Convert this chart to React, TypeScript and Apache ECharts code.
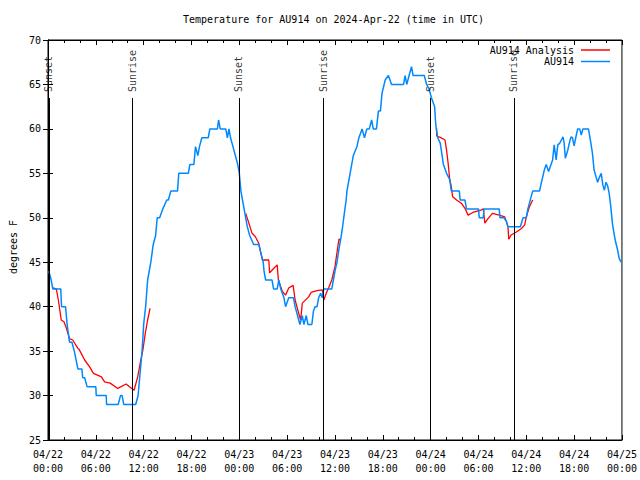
import React, { useEffect, useRef } from "react";
import * as echarts from "echarts";

const TITLE = "Temperature for AU914 on 2024-Apr-22 (time in UTC)";
const Y_NAME = "degrees F";
const OBS_NAME = "AU914";
const ANA_NAME = "AU914 Analysis";

// hours since 04/22 00:00 UTC
const X_TICK_LABELS = [
  "04/22\n00:00", "04/22\n06:00", "04/22\n12:00", "04/22\n18:00",
  "04/23\n00:00", "04/23\n06:00", "04/23\n12:00", "04/23\n18:00",
  "04/24\n00:00", "04/24\n06:00", "04/24\n12:00", "04/24\n18:00",
  "04/25\n00:00",
];

const SUN_TIMES = [0.1, 10.6, 23.95, 34.58, 47.95, 58.45];
const SUN_LABELS = ["Sunset", "Sunrise", "Sunset", "Sunrise", "Sunset", "Sunrise"];

// observed temperature (AU914)
const OBS_HOURS = [
  0.1, 0.4, 0.6, 1.6, 1.7, 2.2, 2.4, 2.7, 3.0, 3.3, 3.75, 4.25, 4.35, 4.6, 4.9, 6.0, 6.05, 7.3, 7.35, 8.8,
  9.1, 9.3, 9.5, 11.0, 11.3, 11.5, 11.8, 12.0, 12.25, 12.5, 12.9, 13.2, 13.5, 13.7, 14.0, 14.4, 14.9, 15.1, 15.4, 16.25,
  16.4, 17.6, 17.8, 18.3, 18.5, 18.8, 19.0, 19.3, 20.1, 20.3, 21.25, 21.4, 21.6, 22.3, 22.5, 22.7, 22.9, 23.2, 23.5, 23.8,
  24.0, 24.2, 24.4, 24.6, 24.8, 25.0, 25.3, 25.8, 26.45, 26.7, 27.0, 27.1, 27.3, 28.1, 28.3, 28.75, 28.95, 29.2, 29.6, 29.8,
  30.0, 30.2, 30.8, 31.0, 31.3, 31.6, 31.9, 32.1, 32.4, 32.6, 33.1, 33.3, 33.5, 33.75, 33.95, 34.2, 34.4, 34.6, 35.6, 35.8,
  36.0, 36.25, 36.5, 36.7, 36.9, 37.1, 37.4, 37.5, 37.9, 38.3, 38.75, 39.0, 39.4, 39.7, 40.0, 40.3, 40.6, 40.8, 41.2, 41.45,
  41.7, 41.9, 42.3, 42.7, 43.1, 44.6, 44.8, 45.0, 45.3, 45.6, 45.8, 47.2, 47.5, 47.8, 48.1, 48.5, 48.6, 48.7, 48.9, 49.2,
  49.4, 49.6, 50.0, 50.4, 50.6, 51.6, 51.7, 52.3, 52.5, 54.0, 54.1, 54.6, 54.7, 56.6, 56.7, 57.2, 57.5, 57.7, 59.25, 59.6,
  60.0, 60.2, 60.8, 61.66, 61.9, 62.3, 62.5, 62.8, 63.1, 63.3, 63.5, 63.75, 63.95, 64.2, 64.4, 64.6, 64.75, 64.9, 65.2, 65.4,
  65.6, 65.8, 66.0, 66.2, 66.45, 66.7, 66.9, 67.1, 67.8, 68.1, 68.3, 68.5, 68.75, 68.95, 69.1, 69.4, 69.6, 69.8, 70.0, 70.2,
  70.4, 70.6, 70.8, 71.0, 71.2, 71.45, 71.66, 71.9,
];
const OBS_TEMPS = [
  44, 43, 42, 42, 40, 40, 38, 36, 36, 35, 33, 33, 32, 32, 31, 31, 30, 30, 29, 29,
  30, 30, 29, 29, 30, 32, 35, 38, 40, 43, 45, 47, 48, 50, 50, 51, 52, 52, 53, 53,
  55, 55, 56, 56, 58, 57, 58, 59, 59, 60, 60, 61, 60, 60, 59, 60, 59, 58, 57, 56,
  55, 53, 52, 51, 50, 49, 48, 47, 47, 46, 45, 44, 43, 43, 42, 42, 43, 42, 41, 40,
  40.5, 41, 41, 40, 39, 38, 39, 38, 39, 38, 38, 39.5, 40, 40, 41, 41.5, 41, 42, 42, 43,
  44, 45, 46.5, 47.5, 48.6, 50, 52, 53, 55, 57, 58, 59, 60, 59, 60, 60, 61, 60, 60, 62,
  62, 64, 65.5, 66, 65, 65, 66, 65, 66, 67, 66, 66, 65, 64.5, 63.5, 62.5, 61, 60, 59, 58.4,
  57.25, 56, 55, 54.3, 53, 53, 52, 52, 51, 51, 50, 50, 51, 51, 50, 50, 49.6, 49, 49, 50,
  50, 51, 53, 53, 54, 55.5, 56, 55.2, 56, 56.5, 58.2, 56.5, 58.2, 58.4, 58.75, 59.1, 58.4, 56.7, 57.6, 58.4,
  59.1, 59, 58.1, 59, 60, 60, 59.3, 60, 60, 58.4, 57.25, 55.4, 54.6, 54, 54.4, 55, 53.7, 53.1, 54, 53.6,
  52.75, 51.25, 49.4, 48.25, 47.3, 46.4, 45.4, 45,
];

// analysis (three segments)
const ANA1_HOURS = [0.63, 1.04, 1.3, 1.66, 2.0, 2.3, 2.7, 3.1, 3.75, 3.9, 4.6, 5.2, 5.7, 6.7, 7.1, 7.8, 8.75, 9.8, 10.5, 10.8, 11.25, 11.6, 11.9, 12.2, 12.5, 12.8];
const ANA1_TEMPS = [42.1, 42, 40.75, 38.5, 38.3, 37.6, 36.4, 36.25, 35.3, 35.2, 34, 33.25, 32.5, 32.1, 31.55, 31.4, 30.8, 31.3, 30.8, 30.6, 32.1, 33.8, 35.1, 37, 38.5, 39.8];
const ANA2_HOURS = [24.8, 25.2, 25.6, 26.0, 26.45, 26.9, 27.7, 27.8, 28.3, 28.75, 28.9, 29.4, 29.8, 30.2, 30.75, 31.0, 31.45, 31.7, 31.9, 32.7, 33.0, 33.75, 34.4, 34.6, 34.9, 35.2, 35.6, 36.0, 36.3, 36.5, 36.7];
const ANA2_TEMPS = [50.5, 49.4, 48.25, 47.9, 47.1, 45.25, 45.25, 43.8, 44.3, 44.7, 43, 41.7, 41.3, 42.1, 42.4, 40.75, 39.25, 38.5, 40.4, 41.1, 41.6, 41.8, 41.9, 40.75, 41.5, 42.1, 43, 44.5, 46.4, 47.6, 47.5];
const ANA3_HOURS = [48.75, 48.76, 49.2, 49.8, 50.0, 50.2, 50.4, 50.6, 50.75, 51.25, 51.9, 52.3, 52.7, 53.3, 54.4, 54.6, 54.8, 55.2, 55.75, 56.6, 57.3, 57.7, 57.8, 58.1, 58.75, 59.4, 59.8, 60.0, 60.4, 60.8];
const ANA3_TEMPS = [60.06, 59.2, 59.05, 58.75, 57.6, 56.1, 54.25, 53.5, 52.4, 52, 51.6, 51.07, 50.3, 50.6, 50.9, 51.0, 49.4, 49.9, 50.5, 50.3, 50.1, 49, 47.6, 48.06, 48.4, 48.8, 49.2, 50.1, 51.25, 52];

const RED = "#ff0000";
const BLUE = "#0088ff";
const FONT = "DejaVu Sans Mono";
const LINE_TOP = 63.47;

const zip = (xs: number[], ys: number[]) => xs.map((x, i) => [x, ys[i]]);

export default function App() {
  const ref = useRef<HTMLDivElement>(null);
  useEffect(() => {
    if (!ref.current) return;
    const chart = echarts.init(ref.current, undefined, { renderer: "svg" });
    const anaData = [
      ...zip(ANA1_HOURS, ANA1_TEMPS), [13, "-"],
      ...zip(ANA2_HOURS, ANA2_TEMPS), [40, "-"],
      ...zip(ANA3_HOURS, ANA3_TEMPS),
    ];
    const axisCommon = {
      axisLine: { show: true, lineStyle: { color: "#000", width: 1 } },
      splitLine: { show: false },
    };
    const xCommon = {
      ...axisCommon,
      type: "value",
      min: 0,
      max: 72,
      interval: 6,
      axisTick: { show: true, inside: true, length: 5, lineStyle: { color: "#000" } },
      minorTick: { show: true, splitNumber: 3, length: 3, lineStyle: { color: "#000" } },
    };
    const yCommon = {
      ...axisCommon,
      type: "value",
      min: 25,
      max: 70,
      interval: 5,
      axisTick: { show: true, inside: true, length: 5, lineStyle: { color: "#000" } },
    };
    const option = {
      animation: false,
      backgroundColor: "#ffffff",
      textStyle: { fontFamily: FONT },
      title: {
        text: TITLE,
        left: 183,
        top: 14,
        padding: 0,
        textStyle: { fontSize: 10, fontWeight: "normal", color: "#000", fontFamily: FONT },
      },
      legend: [
        {
          data: [ANA_NAME],
          right: 30,
          top: 45,
          padding: 0,
          align: "right",
          icon: "rect",
          itemWidth: 29,
          itemHeight: 1.5,
          selectedMode: false,
          textStyle: { fontSize: 10, color: "#000", fontFamily: FONT, padding: [0, 2, 0, 0] },
        },
        {
          data: [OBS_NAME],
          right: 30,
          top: 56.5,
          padding: 0,
          align: "right",
          icon: "rect",
          itemWidth: 29,
          itemHeight: 1.5,
          selectedMode: false,
          textStyle: { fontSize: 10, color: "#000", fontFamily: FONT, padding: [0, 2, 0, 0] },
        },
      ],
      grid: {
        left: 46.7,
        top: 40,
        width: 576,
        height: 400,
        show: true,
        borderColor: "#000",
        borderWidth: 1,
      },
      xAxis: [
        {
          ...xCommon,
          position: "bottom",
          axisLabel: {
            show: true,
            showMinLabel: true,
            showMaxLabel: true,
            formatter: (v: number) => X_TICK_LABELS[Math.round(v / 6)] ?? "",
            fontSize: 10,
            lineHeight: 14,
            margin: 7,
            color: "#000",
            fontFamily: FONT,
          },
        },
        { ...xCommon, position: "top", axisLabel: { show: false } },
      ],
      yAxis: [
        {
          ...yCommon,
          position: "left",
          name: Y_NAME,
          nameLocation: "middle",
          nameGap: 30,
          nameRotate: 90,
          nameTextStyle: { fontSize: 10, color: "#000", fontFamily: FONT, padding: [0, 14, 0, 0] },
          axisLabel: {
            show: true,
            showMinLabel: true,
            showMaxLabel: true,
            fontSize: 10,
            margin: 7,
            color: "#000",
            fontFamily: FONT,
          },
        },
        { ...yCommon, position: "right", axisLabel: { show: false } },
      ],
      series: [
        {
          name: ANA_NAME,
          type: "line",
          xAxisIndex: 0,
          yAxisIndex: 0,
          data: anaData,
          color: RED,
          showSymbol: false,
          symbol: "none",
          connectNulls: false,
          lineStyle: { color: RED, width: 1.3 },
          itemStyle: { color: RED },
          z: 3,
        },
        {
          name: OBS_NAME,
          type: "line",
          xAxisIndex: 0,
          yAxisIndex: 0,
          data: zip(OBS_HOURS, OBS_TEMPS),
          color: BLUE,
          showSymbol: false,
          symbol: "none",
          lineStyle: { color: BLUE, width: 1.5 },
          itemStyle: { color: BLUE },
          z: 4,
        },
        {
          name: "sun",
          type: "scatter",
          xAxisIndex: 0,
          yAxisIndex: 0,
          symbolSize: 0,
          silent: true,
          itemStyle: { color: "rgba(0,0,0,0)" },
          data: SUN_TIMES.map((t, i) => ({ value: [t, LINE_TOP], name: SUN_LABELS[i] })),
          label: {
            show: true,
            formatter: "{b}",
            position: "top",
            distance: 6,
            rotate: 90,
            align: "left",
            verticalAlign: "middle",
            fontSize: 10,
            color: "#000",
            fontFamily: FONT,
          },
          markLine: {
            silent: true,
            symbol: "none",
            animation: false,
            label: { show: false },
            lineStyle: { color: "#000", width: 1, type: "solid" },
            emphasis: { disabled: true },
            data: SUN_TIMES.map((t) => [{ coord: [t, 25] }, { coord: [t, LINE_TOP] }]),
          },
          z: 5,
        },
      ],
    };
    chart.setOption(option as any);
    return () => chart.dispose();
  }, []);
  return (
    <div
      ref={ref}
      style={{ position: "fixed", left: 0, top: 0, width: 640, height: 480, background: "#fff" }}
    />
  );
}
